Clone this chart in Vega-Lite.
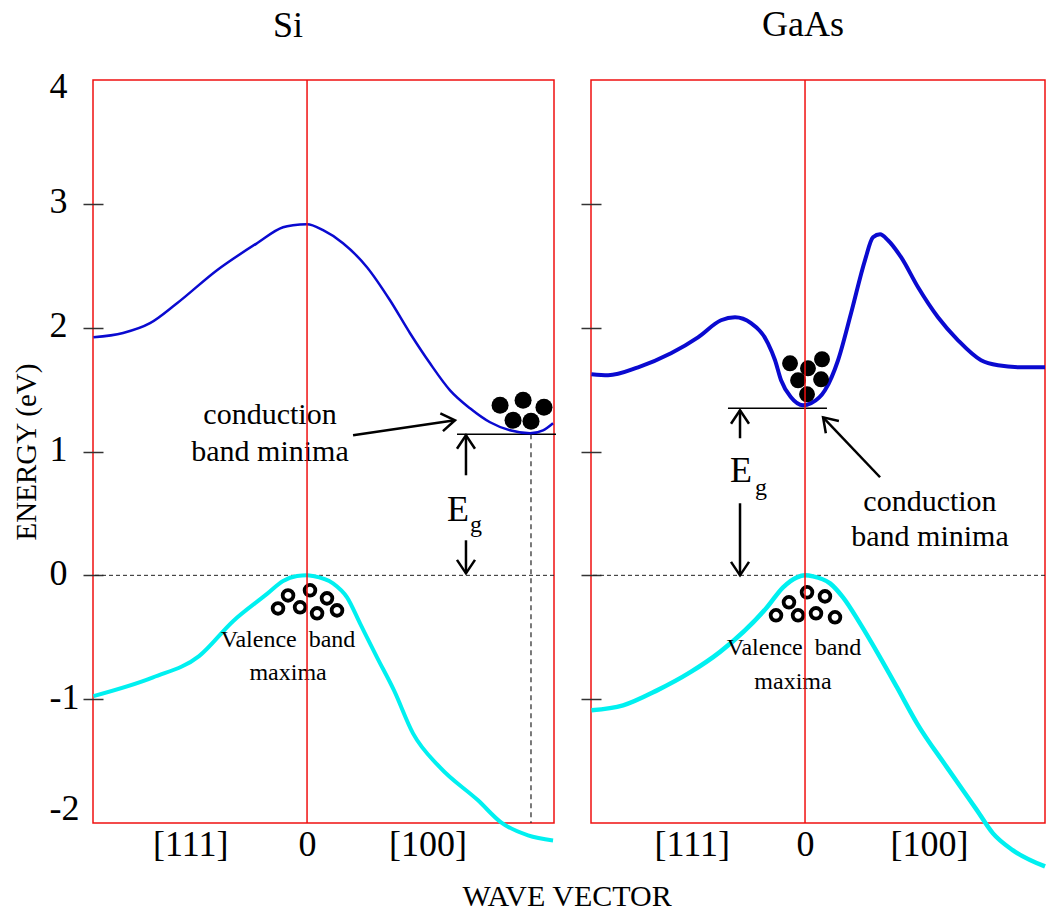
{
  "$schema": "https://vega.github.io/schema/vega-lite/v6.json",
  "padding": {"left": 11, "top": 6, "right": 0, "bottom": 0},
  "background": "white",
  "bounds": "flush",
  "spacing": 37,
  "config": {
    "font": "Liberation Serif",
    "view": {"stroke": "#f01010", "strokeWidth": 1.5},
    "axis": {"grid": false, "domain": false, "labelColor": "black", "titleColor": "black", "labelFont": "Liberation Serif", "titleFont": "Liberation Serif"},
    "title": {"font": "Liberation Serif", "fontSize": 36, "fontWeight": "normal", "color": "black"}
  },
  "datasets": {
    "siCond": [
      {"x": -1.81, "y": 1.922}, {"x": -1.559, "y": 1.957}, {"x": -1.331, "y": 2.036}, {"x": -1.102, "y": 2.197},
      {"x": -0.763, "y": 2.464}, {"x": -0.424, "y": 2.682}, {"x": -0.203, "y": 2.811}, {"x": -0.119, "y": 2.827},
      {"x": 0, "y": 2.835}, {"x": 0.136, "y": 2.787}, {"x": 0.305, "y": 2.682}, {"x": 0.508, "y": 2.488},
      {"x": 0.703, "y": 2.221}, {"x": 0.873, "y": 1.955}, {"x": 1.042, "y": 1.712}, {"x": 1.212, "y": 1.494},
      {"x": 1.381, "y": 1.349}, {"x": 1.551, "y": 1.236}, {"x": 1.72, "y": 1.171}, {"x": 1.89, "y": 1.147},
      {"x": 2.0, "y": 1.171}, {"x": 2.085, "y": 1.228}
    ],
    "siVal": [
      {"x": -1.81, "y": -0.975}, {"x": -1.305, "y": -0.824}, {"x": -0.915, "y": -0.652}, {"x": -0.627, "y": -0.37},
      {"x": -0.339, "y": -0.15}, {"x": -0.203, "y": -0.045}, {"x": -0.085, "y": -0.006}, {"x": 0, "y": 0},
      {"x": 0.051, "y": -0.006}, {"x": 0.22, "y": -0.065}, {"x": 0.339, "y": -0.178}, {"x": 0.449, "y": -0.388},
      {"x": 0.593, "y": -0.662}, {"x": 0.737, "y": -0.929}, {"x": 0.898, "y": -1.276}, {"x": 1.127, "y": -1.551},
      {"x": 1.449, "y": -1.817}, {"x": 1.644, "y": -1.995}, {"x": 1.873, "y": -2.1}, {"x": 2.085, "y": -2.141}
    ],
    "gaCond": [
      {"x": -1.81, "y": 1.624}, {"x": -1.669, "y": 1.616}, {"x": -1.415, "y": 1.68}, {"x": -1.136, "y": 1.793},
      {"x": -0.907, "y": 1.922}, {"x": -0.712, "y": 2.06}, {"x": -0.593, "y": 2.084}, {"x": -0.458, "y": 2.036},
      {"x": -0.314, "y": 1.874}, {"x": -0.254, "y": 1.737}, {"x": -0.203, "y": 1.575}, {"x": -0.119, "y": 1.438},
      {"x": -0.017, "y": 1.373}, {"x": 0.051, "y": 1.389}, {"x": 0.169, "y": 1.494}, {"x": 0.28, "y": 1.737},
      {"x": 0.39, "y": 2.116}, {"x": 0.508, "y": 2.544}, {"x": 0.576, "y": 2.73}, {"x": 0.636, "y": 2.754},
      {"x": 0.703, "y": 2.706}, {"x": 0.814, "y": 2.569}, {"x": 0.958, "y": 2.326}, {"x": 1.127, "y": 2.084},
      {"x": 1.297, "y": 1.898}, {"x": 1.492, "y": 1.737}, {"x": 1.636, "y": 1.696}, {"x": 1.831, "y": 1.68},
      {"x": 2.034, "y": 1.68}
    ],
    "gaVal": [
      {"x": -1.81, "y": -1.09}, {"x": -1.542, "y": -1.05}, {"x": -1.254, "y": -0.929}, {"x": -0.975, "y": -0.784},
      {"x": -0.72, "y": -0.618}, {"x": -0.322, "y": -0.258}, {"x": -0.186, "y": -0.097}, {"x": -0.068, "y": -0.016},
      {"x": 0, "y": 0}, {"x": 0.068, "y": -0.008}, {"x": 0.212, "y": -0.065}, {"x": 0.322, "y": -0.178},
      {"x": 0.466, "y": -0.388}, {"x": 0.636, "y": -0.662}, {"x": 0.78, "y": -0.905}, {"x": 0.949, "y": -1.195},
      {"x": 1.203, "y": -1.551}, {"x": 1.458, "y": -1.898}, {"x": 1.593, "y": -2.084}, {"x": 1.763, "y": -2.221},
      {"x": 2.034, "y": -2.351}
    ],
    "siElec": [
      {"x": 1.636, "y": 1.373}, {"x": 1.831, "y": 1.414}, {"x": 2.008, "y": 1.357}, {"x": 1.746, "y": 1.252}, {"x": 1.898, "y": 1.244}
    ],
    "gaElec": [
      {"x": -0.127, "y": 1.712}, {"x": 0.025, "y": 1.672}, {"x": 0.144, "y": 1.745}, {"x": -0.059, "y": 1.575}, {"x": 0.136, "y": 1.583}, {"x": 0.017, "y": 1.462}
    ],
    "siHole": [
      {"x": -0.246, "y": -0.267}, {"x": -0.161, "y": -0.162}, {"x": -0.059, "y": -0.258}, {"x": 0.025, "y": -0.121},
      {"x": 0.085, "y": -0.307}, {"x": 0.169, "y": -0.186}, {"x": 0.254, "y": -0.283}
    ],
    "gaHole": [
      {"x": -0.246, "y": -0.323}, {"x": -0.136, "y": -0.218}, {"x": -0.059, "y": -0.323}, {"x": 0.017, "y": -0.137},
      {"x": 0.093, "y": -0.307}, {"x": 0.169, "y": -0.17}, {"x": 0.254, "y": -0.339}
    ],
    "siShaft": [
      {"x": 0.39, "y": 1.131, "x2": 1.254, "y2": 1.252},
      {"x": 1.347, "y": 0.808, "x2": 1.347, "y2": 1.131},
      {"x": 1.347, "y": 0.283, "x2": 1.347, "y2": 0.016}
    ],
    "gaShaft": [
      {"x": 0.636, "y": 0.792, "x2": 0.153, "y2": 1.276},
      {"x": -0.551, "y": 1.107, "x2": -0.551, "y2": 1.333},
      {"x": -0.551, "y": 0.582, "x2": -0.551, "y2": 0.0}
    ],
    "siBig": [
      {"x": -0.314, "y": 1.292, "label": "conduction"},
      {"x": -0.314, "y": 0.994, "label": "band minima"}
    ],
    "gaBig": [
      {"x": 1.059, "y": 0.59, "label": "conduction"},
      {"x": 1.059, "y": 0.307, "label": "band minima"}
    ],
    "siSmall": [
      {"x": -0.161, "y": -0.525, "label": "Valence\u00a0 band"},
      {"x": -0.161, "y": -0.792, "label": "maxima"},
      {"x": 1.432, "y": 0.404, "label": "g"}
    ],
    "gaSmall": [
      {"x": -0.093, "y": -0.59, "label": "Valence\u00a0 band"},
      {"x": -0.102, "y": -0.864, "label": "maxima"},
      {"x": -0.373, "y": 0.703, "label": "g"}
    ],
    "siE": [{"x": 1.28, "y": 0.525, "label": "E"}],
    "gaE": [{"x": -0.542, "y": 0.84, "label": "E"}]
  },
  "hconcat": [
    {
      "width": 461,
      "height": 743,
      "title": {"text": "Si", "anchor": "start", "frame": "group", "dx": 180, "offset": 23},
      "layer": [
        {
          "data": {"values": [{"y": 0}]},
          "mark": {"type": "rule", "color": "#222", "strokeWidth": 1, "strokeDash": [4, 3]},
          "encoding": {
            "y": {"field": "y", "type": "quantitative", "scale": {"domain": [-2, 4], "nice": false, "zero": false},
              "axis": {"title": "ENERGY (eV)", "titleFontSize": 29, "titleFontWeight": "normal", "titlePadding": 8,
                "values": [-2, -1, 0, 1, 2, 3, 4],
                "labelExpr": "datum.value < 0 ? '-' + abs(datum.value) : '' + datum.value",
                "labelFontSize": 36, "labelAlign": "left", "labelPadding": 34, "labelBaseline": "middle",
                "labelFlush": false,
                "labelOffset": {"condition": [{"test": "datum.value == 4", "value": 6}, {"test": "datum.value == -2", "value": -15}], "value": -2},
                "tickSize": 20, "offset": -10, "tickColor": "#333", "tickWidth": 1.5,
                "tickOpacity": {"condition": {"test": "datum.value == 4 || datum.value == -2", "value": 0}, "value": 1}}}
          }
        },
        {
          "data": {"name": "siShaft"},
          "transform": [{"filter": "false"}],
          "mark": {"type": "rule"},
          "encoding": {
            "x": {"field": "x", "type": "quantitative", "scale": {"domain": [-1.814, 2.093], "nice": false, "zero": false},
              "axis": {"values": [-0.99, 0, 1.02], "labelExpr": "datum.value < -0.5 ? '[111]' : (datum.value > 0.5 ? '[100]' : '0')",
                "ticks": false, "labelFontSize": 36, "labelPadding": 4, "labelFlush": false,
                "title": "WAVE VECTOR", "titleFontSize": 30, "titleFontWeight": "normal", "titleX": 369, "titleY": 82,
                "titleBaseline": "alphabetic", "titleAlign": "left", "titleAnchor": "start"}}
          }
        },
        {
          "data": {"values": [{"x": 1.271, "y": 1.14, "x2": 2.11, "y2": 1.14}]},
          "mark": {"type": "rule", "color": "black", "strokeWidth": 1.5},
          "encoding": {"x": {"field": "x", "type": "quantitative"}, "x2": {"field": "x2"}, "y": {"field": "y", "type": "quantitative"}, "y2": {"field": "y2"}}
        },
        {
          "data": {"values": [{"x": 1.898, "y": 1.14, "x2": 1.898, "y2": -2}]},
          "mark": {"type": "rule", "color": "#222", "strokeWidth": 1.2, "strokeDash": [5, 4]},
          "encoding": {"x": {"field": "x", "type": "quantitative"}, "x2": {"field": "x2"}, "y": {"field": "y", "type": "quantitative"}, "y2": {"field": "y2"}}
        },
        {
          "data": {"name": "siCond"},
          "mark": {"type": "line", "color": "#0a0ad0", "strokeWidth": 2.5, "interpolate": "monotone"},
          "encoding": {"x": {"field": "x", "type": "quantitative"}, "y": {"field": "y", "type": "quantitative"}}
        },
        {
          "data": {"name": "siVal"},
          "mark": {"type": "line", "color": "#00f0f0", "strokeWidth": 4, "interpolate": "monotone"},
          "encoding": {"x": {"field": "x", "type": "quantitative"}, "y": {"field": "y", "type": "quantitative"}}
        },
        {
          "data": {"name": "siElec"},
          "mark": {"type": "point", "shape": "circle", "filled": true, "color": "black", "opacity": 1, "size": 290},
          "encoding": {"x": {"field": "x", "type": "quantitative"}, "y": {"field": "y", "type": "quantitative"}}
        },
        {
          "data": {"name": "siHole"},
          "mark": {"type": "point", "shape": "circle", "filled": false, "color": "black", "opacity": 1, "size": 115, "strokeWidth": 3.8},
          "encoding": {"x": {"field": "x", "type": "quantitative"}, "y": {"field": "y", "type": "quantitative"}}
        },
        {
          "data": {"name": "siShaft"},
          "mark": {"type": "rule", "color": "black", "strokeWidth": 2.5},
          "encoding": {"x": {"field": "x", "type": "quantitative"}, "x2": {"field": "x2"}, "y": {"field": "y", "type": "quantitative"}, "y2": {"field": "y2"}}
        },
        {
          "data": {"values": [{"x": 1.254, "y": 1.252}]},
          "mark": {"type": "point", "shape": "M -0.6 0.9 L 0 0 L 0.6 0.9", "filled": false, "color": "black", "opacity": 1, "size": 900, "strokeWidth": 2.5, "angle": 81.6},
          "encoding": {"x": {"field": "x", "type": "quantitative"}, "y": {"field": "y", "type": "quantitative"}}
        },
        {
          "data": {"values": [{"x": 1.347, "y": 1.131}]},
          "mark": {"type": "point", "shape": "M -0.6 0.9 L 0 0 L 0.6 0.9", "filled": false, "color": "black", "opacity": 1, "size": 900, "strokeWidth": 2.5, "angle": 0},
          "encoding": {"x": {"field": "x", "type": "quantitative"}, "y": {"field": "y", "type": "quantitative"}}
        },
        {
          "data": {"values": [{"x": 1.347, "y": 0.016}]},
          "mark": {"type": "point", "shape": "M -0.6 0.9 L 0 0 L 0.6 0.9", "filled": false, "color": "black", "opacity": 1, "size": 900, "strokeWidth": 2.5, "angle": 180},
          "encoding": {"x": {"field": "x", "type": "quantitative"}, "y": {"field": "y", "type": "quantitative"}}
        },
        {
          "data": {"name": "siBig"},
          "mark": {"type": "text", "fontSize": 30, "color": "black", "align": "center", "baseline": "middle"},
          "encoding": {"x": {"field": "x", "type": "quantitative"}, "y": {"field": "y", "type": "quantitative"}, "text": {"field": "label"}}
        },
        {
          "data": {"name": "siSmall"},
          "mark": {"type": "text", "fontSize": 24, "color": "black", "align": "center", "baseline": "middle"},
          "encoding": {"x": {"field": "x", "type": "quantitative"}, "y": {"field": "y", "type": "quantitative"}, "text": {"field": "label"}}
        },
        {
          "data": {"name": "siE"},
          "mark": {"type": "text", "fontSize": 36, "color": "black", "align": "center", "baseline": "middle"},
          "encoding": {"x": {"field": "x", "type": "quantitative"}, "y": {"field": "y", "type": "quantitative"}, "text": {"field": "label"}}
        },
        {
          "data": {"values": [{"x": 0}]},
          "mark": {"type": "rule", "color": "#f01010", "strokeWidth": 1.5},
          "encoding": {"x": {"field": "x", "type": "quantitative"}}
        }
      ]
    },
    {
      "width": 454,
      "height": 743,
      "title": {"text": "GaAs", "anchor": "start", "frame": "group", "dx": 171, "offset": 35},
      "layer": [
        {
          "data": {"values": [{"y": 0}]},
          "mark": {"type": "rule", "color": "#222", "strokeWidth": 1, "strokeDash": [4, 3]},
          "encoding": {
            "y": {"field": "y", "type": "quantitative", "scale": {"domain": [-2, 4], "nice": false, "zero": false},
              "axis": {"title": null, "values": [-2, -1, 0, 1, 2, 3, 4], "labels": false,
                "tickSize": 20, "offset": -10, "tickColor": "#333", "tickWidth": 1.5,
                "tickOpacity": {"condition": {"test": "datum.value == 4 || datum.value == -2", "value": 0}, "value": 1}}}
          }
        },
        {
          "data": {"name": "gaShaft"},
          "transform": [{"filter": "false"}],
          "mark": {"type": "rule"},
          "encoding": {
            "x": {"field": "x", "type": "quantitative", "scale": {"domain": [-1.814, 2.034], "nice": false, "zero": false},
              "axis": {"values": [-0.96, 0, 1.05], "labelExpr": "datum.value < -0.5 ? '[111]' : (datum.value > 0.5 ? '[100]' : '0')",
                "ticks": false, "labelFontSize": 36, "labelPadding": 4, "labelFlush": false, "title": null}}
          }
        },
        {
          "data": {"values": [{"x": -0.653, "y": 1.349, "x2": 0.186, "y2": 1.349}]},
          "mark": {"type": "rule", "color": "black", "strokeWidth": 1.5},
          "encoding": {"x": {"field": "x", "type": "quantitative"}, "x2": {"field": "x2"}, "y": {"field": "y", "type": "quantitative"}, "y2": {"field": "y2"}}
        },
        {
          "data": {"name": "gaCond"},
          "mark": {"type": "line", "color": "#0a0ad0", "strokeWidth": 4, "interpolate": "monotone"},
          "encoding": {"x": {"field": "x", "type": "quantitative"}, "y": {"field": "y", "type": "quantitative"}}
        },
        {
          "data": {"name": "gaVal"},
          "mark": {"type": "line", "color": "#00f0f0", "strokeWidth": 4.5, "interpolate": "monotone"},
          "encoding": {"x": {"field": "x", "type": "quantitative"}, "y": {"field": "y", "type": "quantitative"}}
        },
        {
          "data": {"name": "gaElec"},
          "mark": {"type": "point", "shape": "circle", "filled": true, "color": "black", "opacity": 1, "size": 254},
          "encoding": {"x": {"field": "x", "type": "quantitative"}, "y": {"field": "y", "type": "quantitative"}}
        },
        {
          "data": {"name": "gaHole"},
          "mark": {"type": "point", "shape": "circle", "filled": false, "color": "black", "opacity": 1, "size": 115, "strokeWidth": 3.8},
          "encoding": {"x": {"field": "x", "type": "quantitative"}, "y": {"field": "y", "type": "quantitative"}}
        },
        {
          "data": {"name": "gaShaft"},
          "mark": {"type": "rule", "color": "black", "strokeWidth": 2.5},
          "encoding": {"x": {"field": "x", "type": "quantitative"}, "x2": {"field": "x2"}, "y": {"field": "y", "type": "quantitative"}, "y2": {"field": "y2"}}
        },
        {
          "data": {"values": [{"x": 0.153, "y": 1.276}]},
          "mark": {"type": "point", "shape": "M -0.6 0.9 L 0 0 L 0.6 0.9", "filled": false, "color": "black", "opacity": 1, "size": 900, "strokeWidth": 2.5, "angle": 316.5},
          "encoding": {"x": {"field": "x", "type": "quantitative"}, "y": {"field": "y", "type": "quantitative"}}
        },
        {
          "data": {"values": [{"x": -0.551, "y": 1.333}]},
          "mark": {"type": "point", "shape": "M -0.6 0.9 L 0 0 L 0.6 0.9", "filled": false, "color": "black", "opacity": 1, "size": 900, "strokeWidth": 2.5, "angle": 0},
          "encoding": {"x": {"field": "x", "type": "quantitative"}, "y": {"field": "y", "type": "quantitative"}}
        },
        {
          "data": {"values": [{"x": -0.551, "y": 0.0}]},
          "mark": {"type": "point", "shape": "M -0.6 0.9 L 0 0 L 0.6 0.9", "filled": false, "color": "black", "opacity": 1, "size": 900, "strokeWidth": 2.5, "angle": 180},
          "encoding": {"x": {"field": "x", "type": "quantitative"}, "y": {"field": "y", "type": "quantitative"}}
        },
        {
          "data": {"name": "gaBig"},
          "mark": {"type": "text", "fontSize": 30, "color": "black", "align": "center", "baseline": "middle"},
          "encoding": {"x": {"field": "x", "type": "quantitative"}, "y": {"field": "y", "type": "quantitative"}, "text": {"field": "label"}}
        },
        {
          "data": {"name": "gaSmall"},
          "mark": {"type": "text", "fontSize": 24, "color": "black", "align": "center", "baseline": "middle"},
          "encoding": {"x": {"field": "x", "type": "quantitative"}, "y": {"field": "y", "type": "quantitative"}, "text": {"field": "label"}}
        },
        {
          "data": {"name": "gaE"},
          "mark": {"type": "text", "fontSize": 36, "color": "black", "align": "center", "baseline": "middle"},
          "encoding": {"x": {"field": "x", "type": "quantitative"}, "y": {"field": "y", "type": "quantitative"}, "text": {"field": "label"}}
        },
        {
          "data": {"values": [{"x": 0}]},
          "mark": {"type": "rule", "color": "#f01010", "strokeWidth": 1.5},
          "encoding": {"x": {"field": "x", "type": "quantitative"}}
        }
      ]
    }
  ]
}
